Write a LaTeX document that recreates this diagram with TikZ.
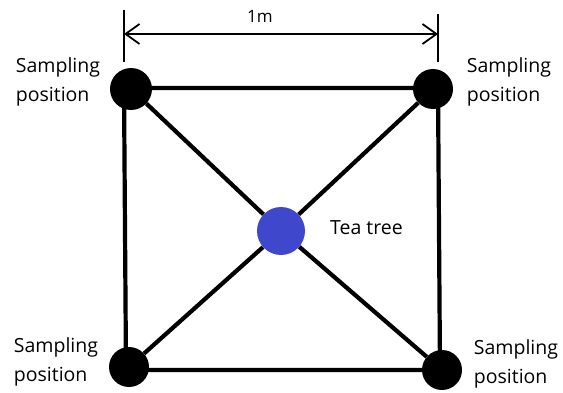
\documentclass[tikz,border=0pt]{standalone}
\usepackage{fontspec}
\setmainfont{Open Sans}
\usetikzlibrary{arrows.meta}
\begin{document}
\begin{tikzpicture}[x=1pt,y=-1pt,
  edge/.style={line width=4.2pt,black},
  dot/.style={circle,fill=black,inner sep=0pt,minimum size=#1},
  treedot/.style={circle,fill={rgb,255:red,63;green,72;blue,204},inner sep=0pt,minimum size=48pt},
  lbl/.style={align=left,font=\fontsize{19.5}{29}\selectfont,inner sep=0pt},
  dim/.style={line width=1.8pt,black}]
\useasboundingbox (0,0) rectangle (563,393);
% corners of the square
\coordinate (cTL) at (124,88);
\coordinate (cTR) at (438,88);
\coordinate (cBL) at (126,370);
\coordinate (cBR) at (440,370);
% square
\draw[edge,line cap=rect] (cTL) -- (cTR) -- (cBR) -- (cBL) -- cycle;
% sampling points and tree
\node[treedot] (tree) at (281,231) {};
\node[dot=42pt] (pTL) at (131,89) {};
\node[dot=40pt] (pTR) at (433,89) {};
\node[dot=40pt] (pBL) at (129,367) {};
\node[dot=40pt] (pBR) at (442,370) {};
\draw[edge] (pTL) -- (tree);
\draw[edge] (pTR) -- (tree);
\draw[edge] (pBL) -- (tree);
\draw[edge] (pBR) -- (tree);
% labels
\node[lbl] (lTL) at (58,82) {Sampling\\position};
\node[lbl] (lTR) at (509,82) {Sampling\\position};
\node[lbl] (lBL) at (56,362) {Sampling\\position};
\node[lbl] (lBR) at (516,364) {Sampling\\position};
\node[lbl,anchor=west] (ltree) at (330,228) {Tea tree};
% dimension
\coordinate (dA1) at (124,10);
\coordinate (dA2) at (124,62);
\coordinate (dB1) at (438,14);
\coordinate (dB2) at (438,62);
\draw[dim] (dA1) -- (dA2);
\draw[dim] (dB1) -- (dB2);
\coordinate (dL) at (124,34);
\coordinate (dR) at (438,34);
\draw[dim,{Straight Barb[length=14pt,width=20pt]}-{Straight Barb[length=14pt,width=20pt]}] (dL) -- (dR);
\node[font=\fontsize{17}{20}\selectfont] (dimlbl) at (260,16) {1m};
\end{tikzpicture}
\end{document}
